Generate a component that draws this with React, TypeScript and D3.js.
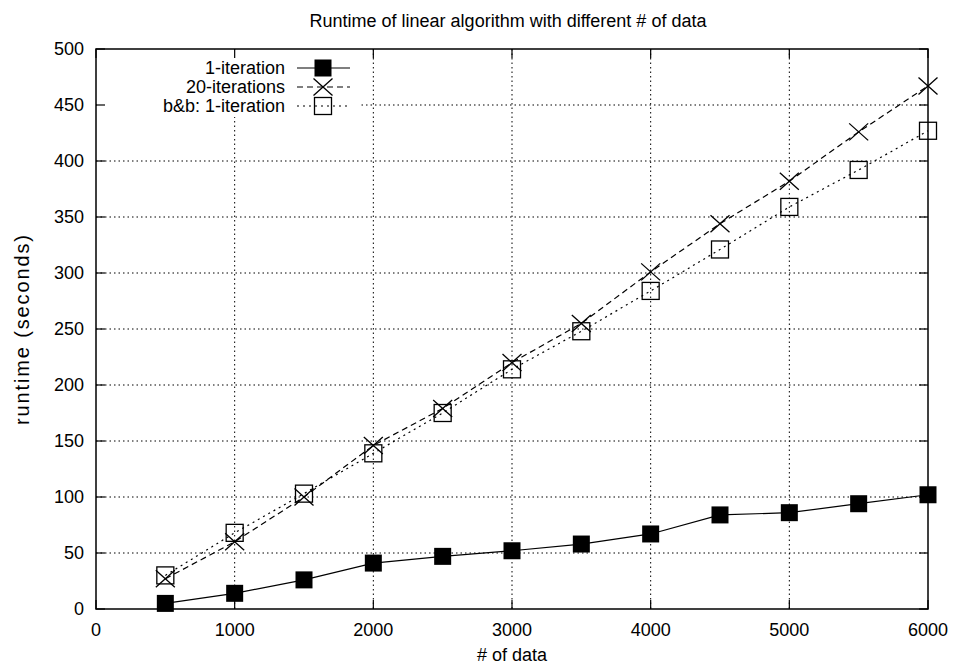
import React from "react";
import { scaleLinear, line } from "d3";

// # of data
const sizes = [500, 1000, 1500, 2000, 2500, 3000, 3500, 4000, 4500, 5000, 5500, 6000];
// runtime (seconds)
const oneIteration = [5, 14, 26, 41, 47, 52, 58, 67, 84, 86, 94, 102];
const twentyIterations = [27, 60, 100, 146, 179, 220, 255, 301, 344, 382, 426, 467];
const bbOneIteration = [30, 68, 103, 139, 175, 214, 248, 284, 321, 359, 392, 427];

const xTicks = [0, 1000, 2000, 3000, 4000, 5000, 6000];
const yTicks = [0, 50, 100, 150, 200, 250, 300, 350, 400, 450, 500];

const W = 953;
const H = 664;
const m = { left: 96, right: 928, top: 49, bottom: 609 };
const font = "'Liberation Sans', Arial, sans-serif";

function App() {
  const x = scaleLinear().domain([0, 6000]).range([m.left, m.right]);
  const y = scaleLinear().domain([0, 500]).range([m.bottom, m.top]);

  const path = (vals: number[]) =>
    line<number>()
      .x((d, i) => x(sizes[i]))
      .y((d) => y(d))(vals) || "";

  const series = [
    { name: "1-iteration", vals: oneIteration, dash: "none", marker: "filled" },
    { name: "20-iterations", vals: twentyIterations, dash: "6,4", marker: "cross" },
    { name: "b&b: 1-iteration", vals: bbOneIteration, dash: "2,4", marker: "box" },
  ];

  const marker = (kind: string, cx: number, cy: number, key: any) => {
    const s = 8.5;
    if (kind === "filled")
      return <rect key={key} x={cx - s} y={cy - s} width={2 * s} height={2 * s} fill="#000" />;
    if (kind === "box")
      return (
        <rect key={key} x={cx - s} y={cy - s} width={2 * s} height={2 * s}
          fill="none" stroke="#000" strokeWidth={1.3} />
      );
    return (
      <g key={key} stroke="#000" strokeWidth={1.3}>
        <line x1={cx - s - 1} y1={cy - s} x2={cx + s + 1} y2={cy + s} />
        <line x1={cx - s - 1} y1={cy + s} x2={cx + s + 1} y2={cy - s} />
      </g>
    );
  };

  const tick = 9;
  const legendRows = [68, 87, 106];

  return (
    <svg width={W} height={H} style={{ position: "absolute", left: 0, top: 0, background: "#fff" }}
      fontFamily={font}>
      {/* grid */}
      <g stroke="#000" strokeWidth={1} strokeDasharray="1.5,3">
        {xTicks.slice(1, -1).map((t) => (
          <line key={"gx" + t} x1={x(t)} x2={x(t)} y1={m.top} y2={m.bottom} />
        ))}
        {yTicks.slice(1, -1).map((t) => (
          <line key={"gy" + t} x1={m.left} x2={m.right} y1={y(t)} y2={y(t)} />
        ))}
      </g>
      {/* key area hides the grid */}
      <rect x={m.left + 1} y={m.top + 1} width={262} height={67} fill="#fff" />

      {/* ticks */}
      <g stroke="#000" strokeWidth={1.2}>
        {xTicks.map((t) => (
          <g key={"tx" + t}>
            <line x1={x(t)} x2={x(t)} y1={m.bottom} y2={m.bottom - tick} />
            <line x1={x(t)} x2={x(t)} y1={m.top} y2={m.top + tick} />
          </g>
        ))}
        {yTicks.map((t) => (
          <g key={"ty" + t}>
            <line x1={m.left} x2={m.left + tick} y1={y(t)} y2={y(t)} />
            <line x1={m.right} x2={m.right - tick} y1={y(t)} y2={y(t)} />
          </g>
        ))}
      </g>

      {/* series */}
      {series.map((s) => (
        <g key={s.name}>
          <path d={path(s.vals)} fill="none" stroke="#000" strokeWidth={1.2} strokeDasharray={s.dash} />
          {s.vals.map((v, i) => marker(s.marker, x(sizes[i]), y(v), i))}
        </g>
      ))}

      {/* frame */}
      <rect x={m.left} y={m.top} width={m.right - m.left} height={m.bottom - m.top}
        fill="none" stroke="#000" strokeWidth={1.5} />

      {/* tick labels */}
      <g fontSize={18} fill="#000">
        {xTicks.map((t) => (
          <text key={"lx" + t} x={x(t)} y={636} textAnchor="middle">{t}</text>
        ))}
        {yTicks.map((t) => (
          <text key={"ly" + t} x={84} y={y(t) + 6} textAnchor="end">{t}</text>
        ))}
      </g>

      {/* legend */}
      {series.map((s, i) => (
        <g key={"lg" + s.name}>
          <text x={285} y={legendRows[i] + 6} textAnchor="end" fontSize={18}>{s.name}</text>
          <line x1={297} x2={350} y1={legendRows[i]} y2={legendRows[i]} stroke="#000"
            strokeWidth={1.2} strokeDasharray={s.dash} />
          {marker(s.marker, 323, legendRows[i], "m")}
        </g>
      ))}

      {/* titles */}
      <text x={508} y={27} textAnchor="middle" fontSize={18}>
        Runtime of linear algorithm with different # of data
      </text>
      <text x={512} y={661} textAnchor="middle" fontSize={18}>
        # of data
      </text>
      <text transform="translate(29,330) rotate(-90)" textAnchor="middle" fontSize={20}
        textLength={190} lengthAdjust="spacing">
        runtime (seconds)
      </text>
    </svg>
  );
}

export default App;
